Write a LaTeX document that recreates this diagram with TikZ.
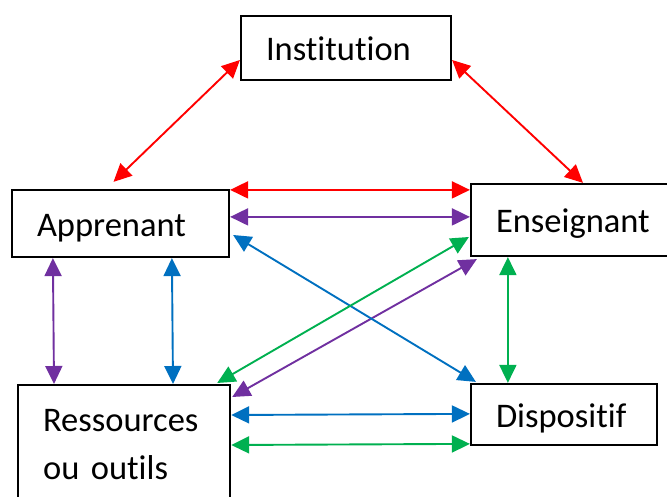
\documentclass[tikz,border=0pt]{standalone}
\usepackage{fontspec}
\setmainfont{Carlito}[Ligatures=NoCommon]
\usetikzlibrary{arrows.meta}
\definecolor{linkred}{RGB}{255,0,0}
\definecolor{linkpurple}{RGB}{112,48,160}
\definecolor{linkblue}{RGB}{0,112,192}
\definecolor{linkgreen}{RGB}{0,176,80}
\tikzset{
  box/.style={draw, line width=2.2pt, align=left, inner xsep=25pt, inner ysep=0pt,
    font=\fontsize{34.5}{48}\selectfont, text height=26pt, text depth=0pt},
  link/.style={{Triangle[length=18pt,width=17pt]}-{Triangle[length=18pt,width=17pt]}, line width=1.9pt}
}
\begin{document}
\begin{tikzpicture}[x=1pt,y=1pt]
\useasboundingbox (0,0) rectangle (667,497);

% boxes
\node[box, text width=160pt, minimum height=64pt] (inst) at (346,449) {Institution};
\node[box, text width=167pt, minimum height=67pt] (appr) at (120.5,273.5) {Apprenant};
\node[box, text width=160pt, minimum height=72pt] (ens) at (576,277) {Enseignant};
\node[box, text width=136pt, minimum height=61pt] (disp) at (564,82.5) {Dispositif};
\node[box, text width=162pt, minimum height=118pt, anchor=north west, text height=, text depth=] (res) at (17,113) {Ressources\\ou outils};

% red
\draw[link, linkred] ([yshift=-12pt]inst.west) -- ([xshift=-7pt,yshift=7pt]appr.north);
\draw[link, linkred] ([yshift=-12pt]inst.east) -- ([xshift=7pt]ens.north);
\draw[link, linkred] ([yshift=-1pt]appr.north east) -- ([yshift=-7pt]ens.north west);

% purple
\draw[link, linkpurple] ([yshift=-28pt]appr.north east) -- ([yshift=-34pt]ens.north west);
\draw[link, linkpurple] ([xshift=1pt,yshift=-13pt]res.north east) -- ([xshift=7pt,yshift=-2pt]ens.south west);
\draw[link, linkpurple] ([xshift=42pt]appr.south west) -- ([xshift=37pt]res.north west);

% blue
\draw[link, linkblue] ([xshift=3pt,yshift=-11.5pt]appr.east) -- ([xshift=6pt,yshift=1pt]disp.north west);
\draw[link, linkblue] ([xshift=161pt]appr.south west) -- ([xshift=156pt]res.north west);
\draw[link, linkblue] ([yshift=-31pt]res.north east) -- ([yshift=-31pt]disp.north west);

% green
\draw[link, linkgreen] ([xshift=-14pt,yshift=1pt]res.north east) -- ([xshift=-1pt,yshift=-17pt]ens.west);
\draw[link, linkgreen] ([xshift=38pt]ens.south west) -- ([xshift=38pt]disp.north west);
\draw[link, linkgreen] ([yshift=-61pt]res.north east) -- ([yshift=-61pt]disp.north west);
\end{tikzpicture}
\end{document}
